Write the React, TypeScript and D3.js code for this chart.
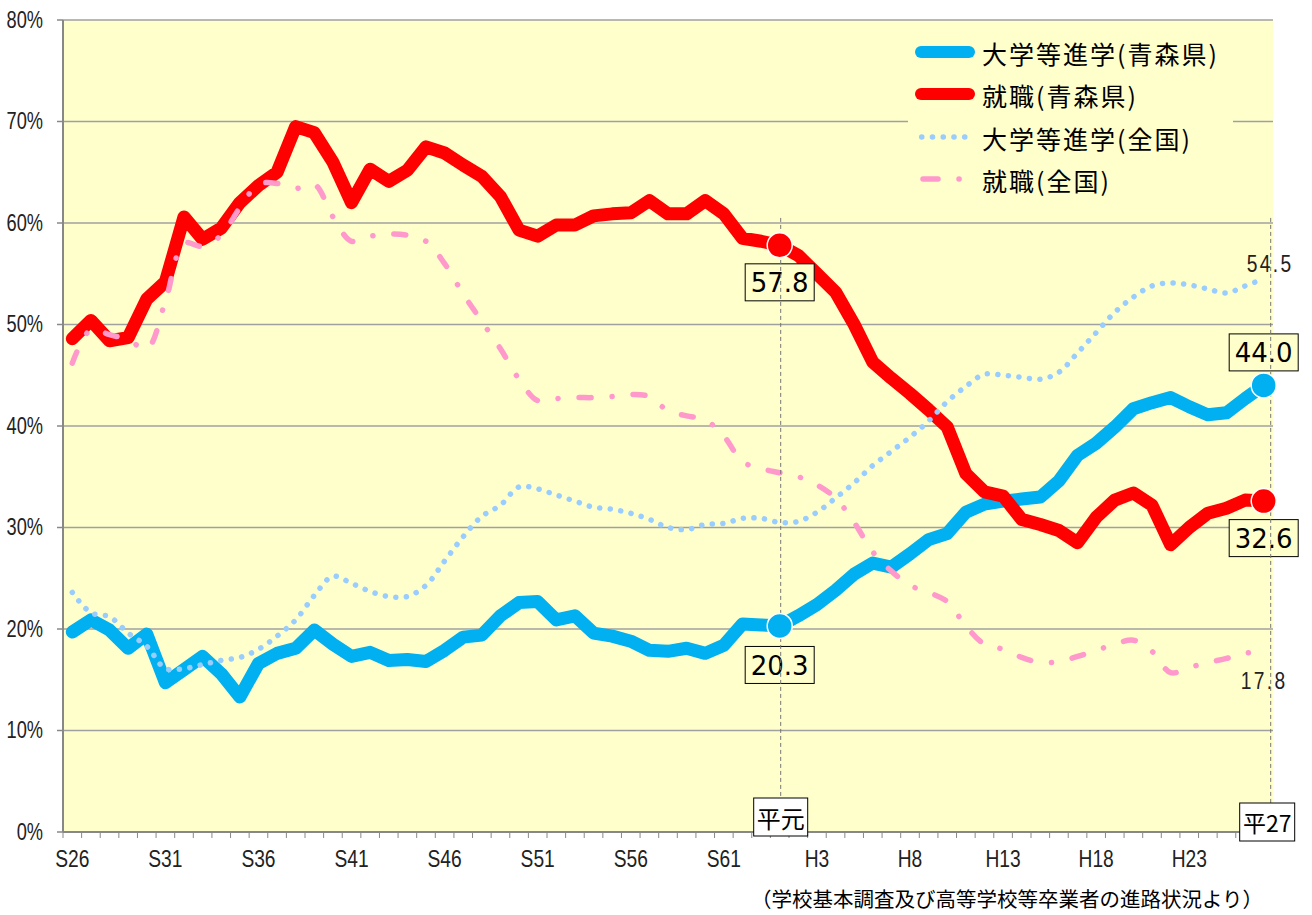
import React, { useEffect } from "react";
import * as d3 from "d3";

const categories = [
  "S26","S27","S28","S29","S30","S31","S32","S33","S34","S35",
  "S36","S37","S38","S39","S40","S41","S42","S43","S44","S45",
  "S46","S47","S48","S49","S50","S51","S52","S53","S54","S55",
  "S56","S57","S58","S59","S60","S61","S62","S63","H1","H2",
  "H3","H4","H5","H6","H7","H8","H9","H10","H11","H12",
  "H13","H14","H15","H16","H17","H18","H19","H20","H21","H22",
  "H23","H24","H25","H26","H27",
];

const tickLabels = ["S26","S31","S36","S41","S46","S51","S56","S61","H3","H8","H13","H18","H23"];
const yTicks = [0, 10, 20, 30, 40, 50, 60, 70, 80];

// 大学等進学(青森県)
const aomoriUniv = [
  19.7, 20.9, 19.9, 18.1, 19.5, 14.7, 16.0, 17.3, 15.6, 13.3,
  16.6, 17.6, 18.1, 19.9, 18.5, 17.3, 17.7, 16.9, 17.0, 16.8,
  17.9, 19.2, 19.4, 21.3, 22.6, 22.7, 20.9, 21.3, 19.6, 19.3,
  18.8, 17.9, 17.8, 18.1, 17.6, 18.4, 20.5, 20.4, 20.3, 21.3,
  22.4, 23.8, 25.4, 26.5, 26.1, 27.4, 28.8, 29.4, 31.5, 32.3,
  32.6, 32.8, 33.0, 34.6, 37.1, 38.3, 39.9, 41.7, 42.3, 42.8,
  41.9, 41.1, 41.3, 42.7, 44.0,
];

// 就職(青森県)
const aomoriJob = [
  48.6, 50.4, 48.4, 48.7, 52.5, 54.2, 60.6, 58.4, 59.5, 62.0,
  63.7, 65.0, 69.5, 68.9, 66.0, 62.0, 65.3, 64.1, 65.2, 67.5,
  66.9, 65.7, 64.6, 62.6, 59.3, 58.7, 59.8, 59.8, 60.7, 60.9,
  61.0, 62.2, 60.9, 60.9, 62.2, 60.9, 58.5, 58.2, 57.8, 56.8,
  55.0, 53.2, 50.0, 46.3, 44.7, 43.2, 41.6, 39.9, 35.3, 33.5,
  33.1, 30.8, 30.3, 29.7, 28.5, 31.0, 32.7, 33.4, 32.2, 28.3,
  30.0, 31.4, 31.9, 32.7, 32.6,
];

// 大学等進学(全国)
const nationalUniv = [
  23.6, 21.6, 21.2, 19.6, 18.3, 16.1, 16.1, 16.5, 16.9, 17.2,
  18.0, 19.3, 20.9, 23.3, 25.2, 24.5, 23.7, 23.2, 23.2, 24.3,
  26.7, 29.1, 31.1, 32.2, 34.0, 33.8, 33.2, 32.6, 32.0, 31.8,
  31.4, 30.8, 30.0, 29.8, 30.3, 30.4, 30.9, 30.9, 30.5, 30.6,
  31.5, 32.9, 34.4, 36.1, 37.5, 38.9, 40.5, 42.4, 43.9, 45.1,
  45.0, 44.8, 44.6, 45.3, 47.2, 49.2, 51.2, 52.7, 53.8, 54.1,
  53.9, 53.5, 53.1, 53.8, 54.5,
];

// 就職(全国)
const nationalJob = [
  46.2, 49.5, 49.0, 48.5, 47.6, 52.3, 58.0, 57.7, 58.8, 61.5,
  63.8, 63.9, 63.4, 63.8, 60.6, 58.2, 58.7, 58.9, 58.8, 58.2,
  56.0, 53.0, 50.3, 47.6, 44.6, 42.5, 42.7, 42.8, 42.8, 42.9,
  43.1, 42.9, 41.5, 41.0, 40.6, 39.0, 36.5, 35.8, 35.4, 35.0,
  34.2, 32.9, 30.5, 27.6, 25.7, 24.3, 23.6, 22.7, 20.3, 18.5,
  18.0, 17.2, 16.7, 16.8, 17.3, 17.9, 18.5, 18.9, 17.8, 15.7,
  16.2, 16.7, 17.1, 17.6, 17.8,
];

const legendLabels = ["大学等進学(青森県)", "就職(青森県)", "大学等進学(全国)", "就職(全国)"];
const highlightCats = ["H1", "H27"];
const eraLabels = ["平元", "平27"];
const sourceText = "（学校基本調査及び高等学校等卒業者の進路状況より）";

const BLUE = "#00B0F0";
const RED = "#FF0000";
const LBLUE = "#99CCFF";
const PINK = "#FF99CC";
const BG = "#FFFFCC";
const GRID = "#A0A0A0";
const AXIS = "#888888";

const SANS = "'Liberation Sans', Arial, sans-serif";
const JP = "'Noto Sans CJK JP', sans-serif";
const NUM = "'DejaVu Sans', sans-serif";

function NarrowText(props: {
  x: number; y: number; anchor?: "start" | "middle" | "end"; size?: number; sx?: number;
  spacing?: number; children: React.ReactNode;
}) {
  const { x, y, anchor = "start", size = 24, sx = 0.8, spacing = 0, children } = props;
  return (
    <text
      transform={`translate(${x},${y}) scale(${sx},1)`}
      textAnchor={anchor}
      dominantBaseline="central"
      fontFamily={SANS}
      fontSize={size}
      letterSpacing={spacing}
      fill="#222"
    >
      {children}
    </text>
  );
}

export default function App() {
  useEffect(() => {
    document.body.style.margin = "0";
  }, []);

  const W = 1312, H = 915;
  const left = 63, right = 1273, top = 20, bottom = 832;

  const x = d3.scaleBand<string>().domain(categories).range([left, right]).padding(0);
  const bw = x.bandwidth();
  const cx = (c: string) => (x(c) as number) + bw / 2;
  const y = d3.scaleLinear().domain([0, 80]).range([bottom, top]);

  const straight = d3.line<number>()
    .x((_, i) => cx(categories[i]))
    .y((d) => y(d))
    .curve(d3.curveLinear);
  const smooth = d3.line<number>()
    .x((_, i) => cx(categories[i]))
    .y((d) => y(d))
    .curve(d3.curveCatmullRom.alpha(0.5));

  const iH1 = categories.indexOf("H1");
  const iLast = categories.length - 1;

  const boxes = [
    { cat: "H1", v: aomoriJob[iH1], dy: 37 },
    { cat: "H1", v: aomoriUniv[iH1], dy: 39 },
    { cat: "H27", v: aomoriUniv[iLast], dy: -33 },
    { cat: "H27", v: aomoriJob[iLast], dy: 37 },
  ];

  const markers = [
    { cat: "H1", v: aomoriJob[iH1], c: RED },
    { cat: "H1", v: aomoriUniv[iH1], c: BLUE },
    { cat: "H27", v: aomoriUniv[iLast], c: BLUE },
    { cat: "H27", v: aomoriJob[iLast], c: RED },
  ];

  const tickXs = categories.map((c) => x(c) as number).concat([right]);

  const legendY = [52, 94, 137, 179];

  return (
    <svg width={W} height={H} style={{ position: "absolute", left: 0, top: 0, display: "block" }}>
      <rect x={0} y={0} width={W} height={H} fill="#FFFFFF" />
      <rect x={left} y={top} width={right - left} height={bottom - top} fill={BG} />

      {/* gridlines */}
      {yTicks.filter((t) => t > 0).map((t) => (
        <line key={t} x1={left} x2={right} y1={y(t)} y2={y(t)} stroke={GRID} strokeWidth={1.5} />
      ))}

      {/* y axis */}
      <line x1={left} x2={left} y1={top} y2={bottom} stroke={AXIS} strokeWidth={2} />
      {yTicks.map((t) => (
        <g key={t}>
          <line x1={left - 6} x2={left} y1={y(t)} y2={y(t)} stroke={AXIS} strokeWidth={1.5} />
          <NarrowText x={43} y={y(t)} anchor="end" size={24} sx={0.76}>
            {t}%
          </NarrowText>
        </g>
      ))}

      {/* x axis */}
      <line x1={left} x2={right} y1={bottom} y2={bottom} stroke={AXIS} strokeWidth={2} />
      {tickXs.map((tx, i) => (
        <line key={i} x1={tx} x2={tx} y1={bottom} y2={bottom + 6} stroke={AXIS} strokeWidth={1} />
      ))}
      {tickLabels.map((c) => (
        <NarrowText key={c} x={cx(c)} y={859} anchor="middle" size={24} sx={0.8}>
          {c}
        </NarrowText>
      ))}

      {/* Aomori series */}
      <path d={straight(aomoriUniv) || ""} fill="none" stroke={BLUE} strokeWidth={13} strokeLinejoin="round" strokeLinecap="round" />
      <path d={straight(aomoriJob) || ""} fill="none" stroke={RED} strokeWidth={13} strokeLinejoin="round" strokeLinecap="round" />

      {/* national series */}
      <path d={smooth(nationalUniv) || ""} fill="none" stroke={LBLUE} strokeWidth={5.5} strokeLinecap="round" strokeDasharray="0.1 10.5" />
      <path d={smooth(nationalJob) || ""} fill="none" stroke={PINK} strokeWidth={5.5} strokeLinecap="round" strokeDasharray="12 21 0.1 21" />

      {/* value boxes */}
      {boxes.map((b, i) => {
        const bx = cx(b.cat);
        const by = y(b.v) + b.dy;
        return (
          <g key={i}>
            <rect x={bx - 34.5} y={by - 18.5} width={69} height={37} fill={BG} stroke="#000" strokeWidth={1} />
            <text x={bx} y={by + 1} textAnchor="middle" dominantBaseline="central" fontFamily={NUM} fontSize={26} fill="#000">
              {b.v.toFixed(1)}
            </text>
          </g>
        );
      })}

      {/* end labels for national series */}
      <NarrowText x={cx("H27") - 17} y={y(nationalUniv[iLast]) - 15} size={24} sx={0.8} spacing={3}>
        {nationalUniv[iLast].toFixed(1)}
      </NarrowText>
      <NarrowText x={cx("H27") - 23} y={y(nationalJob[iLast]) + 29} size={24} sx={0.8} spacing={3}>
        {nationalJob[iLast].toFixed(1)}
      </NarrowText>

      {/* dashed reference lines and era boxes */}
      {highlightCats.map((c, i) => {
        const lx = cx(c) + (i === 0 ? 1 : 7);
        const boxTop = i === 0 ? 798 : 803;
        return (
          <line key={c} x1={lx} x2={lx} y1={y(60.5)} y2={boxTop} stroke="#777" strokeWidth={1} strokeDasharray="4 3" />
        );
      })}
      {highlightCats.map((c, i) => {
        const bxc = i === 0 ? cx(c) + 1 : cx(c) + 3.5;
        const boxTop = i === 0 ? 798 : 803;
        const bwid = i === 0 ? 54 : 55;
        return (
          <g key={"b" + c}>
            <rect x={bxc - bwid / 2} y={boxTop} width={bwid} height={38} fill="#FFFFFF" stroke="#000" strokeWidth={1} />
            <text x={bxc} y={boxTop + 19} textAnchor="middle" dominantBaseline="central" fontFamily={JP} fontSize={i === 0 ? 24 : 23} fill="#000">
              {eraLabels[i]}
            </text>
          </g>
        );
      })}

      {/* markers */}
      {markers.map((m, i) => (
        <circle key={i} cx={cx(m.cat)} cy={y(m.v)} r={12.5} fill={m.c} stroke="#FFFFFF" strokeWidth={1.5} />
      ))}

      {/* legend */}
      <rect x={908} y={21} width={325} height={180} fill={BG} />
      <line x1={921} x2={969} y1={legendY[0]} y2={legendY[0]} stroke={BLUE} strokeWidth={12} strokeLinecap="round" />
      <line x1={921} x2={969} y1={legendY[1]} y2={legendY[1]} stroke={RED} strokeWidth={12} strokeLinecap="round" />
      <line x1={921.7} x2={966} y1={legendY[2]} y2={legendY[2]} stroke={LBLUE} strokeWidth={5.5} strokeLinecap="round" strokeDasharray="0.1 10.65" />
      <line x1={923} x2={966} y1={legendY[3]} y2={legendY[3]} stroke={PINK} strokeWidth={5.5} strokeLinecap="round" strokeDasharray="15 21 0.1 40" />
      {legendLabels.map((l, i) => (
        <text key={l} x={982} y={legendY[i] + 1} dominantBaseline="central" fontFamily={JP} fontSize={25} letterSpacing={2} fill="#000">
          {l}
        </text>
      ))}

      {/* source */}
      <text x={1263} y={898} textAnchor="end" dominantBaseline="central" fontFamily={JP} fontSize={20.5} fill="#000">
        {sourceText}
      </text>
    </svg>
  );
}
